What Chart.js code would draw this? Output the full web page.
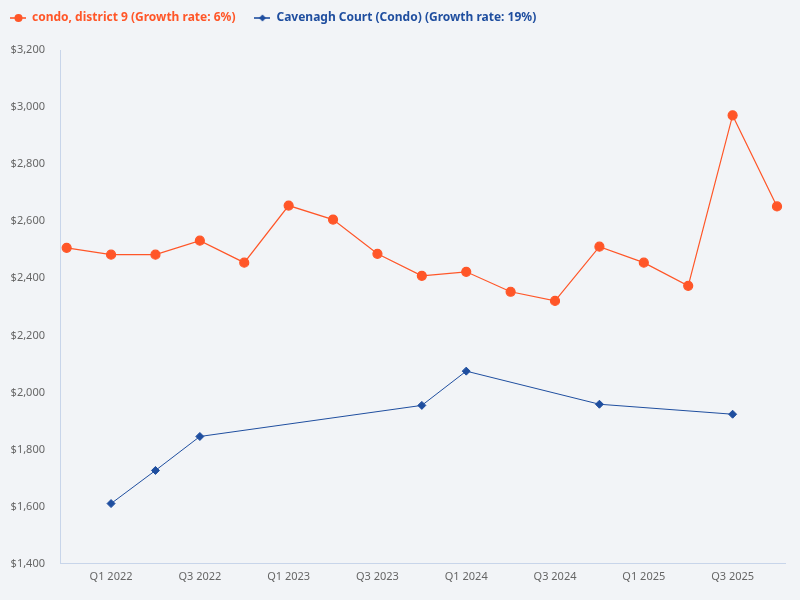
<!DOCTYPE html>
<html>
<head>
<meta charset="utf-8">
<script src="https://cdn.jsdelivr.net/npm/chart.js@4/dist/chart.umd.min.js"></script>
<style>
html,body{margin:0;padding:0;background:#f2f4f7;}
#wrap{width:800px;height:600px;position:relative;}
</style>
</head>
<body>
<div id="wrap"><canvas id="c" width="800" height="600"></canvas></div>
<script>
const categories = ["Q4 2021","Q1 2022","Q2 2022","Q3 2022","Q4 2022","Q1 2023","Q2 2023","Q3 2023","Q4 2023","Q1 2024","Q2 2024","Q3 2024","Q4 2024","Q1 2025","Q2 2025","Q3 2025","Q4 2025"];
const districtValues = [2507,2483,2483,2532,2455,2655,2606,2486,2409,2423,2353,2321,2511,2455,2374,2971,2652];
const cavenaghValues = [null,1611,1727,1846,null,null,null,null,1955,2075,null,null,1959,null,null,1924,null];
const seriesNames = ["condo, district 9 (Growth rate: 6%)","Cavenagh Court (Condo) (Growth rate: 19%)"];
const yTicks = [1400,1600,1800,2000,2200,2400,2600,2800,3000,3200];
const xTickIndexes = [1,3,5,7,9,11,13,15];

const ORANGE = "#ff5628";
const BLUE = "#1f4e9f";

function legendIcon(color, shape){
  const cv = document.createElement('canvas');
  cv.width = 16; cv.height = 10;
  const ctx = cv.getContext('2d');
  ctx.strokeStyle = color; ctx.lineWidth = 1.6;
  ctx.beginPath(); ctx.moveTo(0,5); ctx.lineTo(16,5); ctx.stroke();
  ctx.fillStyle = color;
  ctx.beginPath();
  if(shape==='circle'){ ctx.arc(8.5,5,4,0,Math.PI*2); }
  else { ctx.moveTo(8,1.5); ctx.lineTo(11.5,5); ctx.lineTo(8,8.5); ctx.lineTo(4.5,5); ctx.closePath(); }
  ctx.fill();
  return cv;
}
const iconA = legendIcon(ORANGE,'circle');
const iconB = legendIcon(BLUE,'diamond');

const toPts = arr => arr.map((v,i)=>({x:i,y:v}));

const legendSpacer = {
  id: 'legendSpacer',
  beforeInit(chart){
    const origFit = chart.legend.fit;
    chart.legend.fit = function(){ origFit.call(this); this.height = 50; };
  },
  afterLayout(chart){
    const lg = chart.legend;
    lg.left -= 9; lg.right -= 9;
    lg.top -= 7; lg.bottom -= 7;
  }
};

new Chart(document.getElementById('c'), {
  type: 'line',
  plugins: [legendSpacer],
  data: {
    datasets: [
      {label: seriesNames[0], data: toPts(districtValues), borderColor: ORANGE, backgroundColor: ORANGE,
       borderWidth: 1.2, pointRadius: 4.5, pointHoverRadius: 4.5, pointStyle: 'circle', tension: 0},
      {label: seriesNames[1], data: toPts(cavenaghValues), borderColor: BLUE, backgroundColor: BLUE,
       borderWidth: 1, pointRadius: 4, pointHoverRadius: 4, pointStyle: 'rectRot', tension: 0, spanGaps: true}
    ]
  },
  options: {
    responsive: false,
    animation: false,
    devicePixelRatio: 1,
    layout: {padding: {left: 0, right: 15, top: 0, bottom: 11}},
    plugins: {
      legend: {
        position: 'top', align: 'start',
        labels: {
          usePointStyle: true,
          pointStyleWidth: 16,
          boxHeight: 10,
          padding: 19,
          font: {family: "'Noto Sans', 'Open Sans', sans-serif", size: 12, weight: 'bold'},
          generateLabels: (chart) => chart.data.datasets.map((ds,i)=>({
            text: ds.label, fillStyle: ds.borderColor, strokeStyle: ds.borderColor,
            fontColor: ds.borderColor, pointStyle: i===0?iconA:iconB, datasetIndex: i, lineWidth: 0, hidden: false
          }))
        }
      },
      tooltip: {enabled: false}
    },
    scales: {
      x: {
        type: 'linear', min: -0.15, max: 16.18,
        grid: {display: false, drawTicks: false},
        border: {display: true, color: '#c8d5ea', width: 1},
        afterBuildTicks: (axis) => { axis.ticks = xTickIndexes.map(v=>({value:v})); },
        ticks: {
          autoSkip: false, maxRotation: 0, padding: 6,
          color: '#666', font: {family: "'Noto Sans', 'Open Sans', sans-serif", size: 11},
          callback: (v) => categories[v]
        }
      },
      y: {
        min: 1400, max: 3200,
        grid: {display: false, drawTicks: false},
        border: {display: true, color: '#c8d5ea', width: 1},
        afterBuildTicks: (axis) => { axis.ticks = yTicks.map(v=>({value:v})); },
        afterFit: (axis) => { axis.width = 60; },
        ticks: {
          padding: 15,
          color: '#666', font: {family: "'Noto Sans', 'Open Sans', sans-serif", size: 11},
          callback: (v) => '$' + v.toLocaleString('en-US')
        }
      }
    }
  }
});
</script>
</body>
</html>
